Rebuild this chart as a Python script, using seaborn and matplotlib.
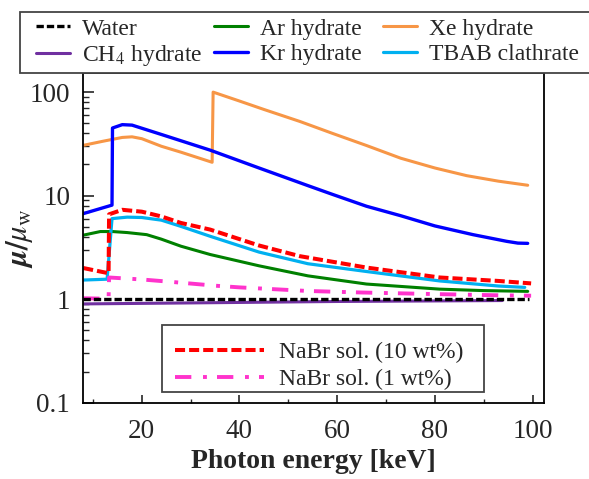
import numpy as np
import pandas as pd
import seaborn as sns
from matplotlib import pyplot as plt
from matplotlib.patches import Rectangle
from matplotlib.ticker import FixedLocator, FixedFormatter, NullFormatter

# values (photon energy in keV, mu/mu_w)
e_water = [8, 99.2]
mu_water = [1.0, 1.0]

e_ch4 = [8, 30, 60, 93.8]
mu_ch4 = [0.9, 0.92, 0.95, 0.97]

e_ar = [8, 11.5, 14, 17, 21, 24, 28, 34, 44, 54, 66, 81, 90, 99]
mu_ar = [4.15, 4.5, 4.5, 4.4, 4.2, 3.8, 3.25, 2.7, 2.1, 1.68, 1.4, 1.25, 1.21, 1.19]

e_kr = [8, 13.9, 14.0, 16, 18, 24, 34, 44, 54, 59, 66, 73, 80, 87.8, 94.7, 97, 99]
mu_kr = [6.7, 8.1, 45, 48.5, 48, 39, 27.5, 18.5, 12.5, 10.3, 7.9, 6.4, 5.1, 4.2, 3.62, 3.48, 3.46]

e_xe = [8, 12, 16, 18, 20, 24, 28, 34.4, 34.6, 40, 45, 52.4, 59, 66, 73, 80, 86.5, 93, 99]
mu_xe = [30.6, 33.5, 36.5, 37, 35.5, 30, 26.3, 21, 100, 82, 68, 52, 40, 30.5, 23, 18.5, 15.6, 13.8, 12.6]

e_tbab = [8, 12.9, 13.9, 17, 20, 24, 28, 34, 44, 54, 66, 81, 93, 98.4]
mu_tbab = [1.53, 1.56, 6.0, 6.2, 6.15, 5.8, 5.05, 4.05, 2.85, 2.2, 1.85, 1.5, 1.34, 1.3]

e_nabr10 = [8, 13.2, 13.3, 16, 20, 24, 28, 34, 44, 52.4, 66, 81, 93, 99.7]
mu_nabr10 = [2.0, 1.78, 6.6, 7.3, 7.0, 6.3, 5.45, 4.7, 3.3, 2.6, 2.02, 1.62, 1.5, 1.42]

e_nabr1 = [8, 13.2, 13.3, 20, 26, 35, 40, 54, 65, 80, 93, 99.7]
mu_nabr1 = [1.02, 1.01, 1.62, 1.55, 1.47, 1.35, 1.3, 1.2, 1.16, 1.12, 1.09, 1.08]

legend_labels = ['Water', 'CH$_4$ hydrate', 'Ar hydrate', 'Kr hydrate',
                 'Xe hydrate', 'TBAB clathrate',
                 'NaBr sol. (10 wt%)', 'NaBr sol. (1 wt%)']
y_ticks = [0.1, 1, 10, 100]
y_tick_labels = ['0.1', '1', '10', '100']

W, H = 589, 479


def pre_config():
    sns.set_style('ticks')
    plt.rcParams.update({
        'font.family': ['Liberation Serif', 'DejaVu Serif'],
        'mathtext.fontset': 'stix',
        'font.size': 17,
        'xtick.direction': 'in',
        'ytick.direction': 'in',
        'axes.linewidth': 1.3,
        'axes.edgecolor': 'black',
    })


def draw(ax, x, y, label, color, lw, dashes=None):
    sns.lineplot(x=x, y=y, ax=ax, color=color, lw=lw, label=label,
                 sort=False, estimator=None)
    line = ax.lines[-1]
    if dashes is not None:
        line.set_dashes(dashes)
    return line


def frame_box(fig, x0, y0, x1, y1):
    # box given in picture pixels from the top-left corner
    rect = Rectangle((x0 / W, 1 - y1 / H), (x1 - x0) / W, (y1 - y0) / H,
                     transform=fig.transFigure, fill=True, facecolor='white',
                     edgecolor='#444444', lw=1.3, zorder=5)
    fig.add_artist(rect)


def legend_column(fig, handles, labels, x, y, **kw):
    leg = fig.legend(handles, labels, loc='upper left',
                     bbox_to_anchor=(x / W, 1 - y / H), borderaxespad=0,
                     borderpad=0, fontsize=17, frameon=False, **kw)
    leg.set_zorder(6)
    return leg


def main():
    pre_config()
    fig = plt.figure(figsize=(W / 100, H / 100), dpi=100)
    ax = fig.add_axes([82.7 / W, 1 - 402.7 / H, (544.3 - 82.7) / W, (402.7 - 73) / H])

    h = {}
    h['Xe hydrate'] = draw(ax, e_xe, mu_xe, legend_labels[4], '#f79646', 2.2)
    h['Ar hydrate'] = draw(ax, e_ar, mu_ar, legend_labels[2], '#008000', 2.2)
    h['TBAB clathrate'] = draw(ax, e_tbab, mu_tbab, legend_labels[5], '#00b0f0', 2.3)
    h['Kr hydrate'] = draw(ax, e_kr, mu_kr, legend_labels[3], '#0000ff', 2.4)
    h['NaBr sol. (1 wt%)'] = draw(ax, e_nabr1, mu_nabr1, legend_labels[7], '#ff33cc', 2.8,
                                  dashes=(4.2, 3.0, 1.0, 2.6))
    h['NaBr sol. (10 wt%)'] = draw(ax, e_nabr10, mu_nabr10, legend_labels[6], '#ff0000', 2.9,
                                   dashes=(2.5, 1.0))
    h['CH$_4$ hydrate'] = draw(ax, e_ch4, mu_ch4, legend_labels[1], '#7030a0', 2.2)
    h['Water'] = draw(ax, e_water, mu_water, legend_labels[0], 'black', 2.4,
                      dashes=(2.2, 0.9))
    ax.get_legend().remove()

    ax.set_yscale('log')
    ax.set_xlim(7.9, 102.4)
    ax.set_ylim(0.1, 153)
    ax.yaxis.set_major_locator(FixedLocator(y_ticks))
    ax.yaxis.set_major_formatter(FixedFormatter(y_tick_labels))
    minor = [m * d for d in [0.1, 1, 10] for m in range(2, 10)]
    ax.yaxis.set_minor_locator(FixedLocator(minor))
    ax.yaxis.set_minor_formatter(NullFormatter())
    ax.set_xticks([20, 40, 60, 80, 100])
    ax.set_xticks([10, 30, 50, 70, 90], minor=True)
    ax.tick_params(which='major', length=6, width=1.2, labelsize=19.5)
    ax.tick_params(which='minor', length=3, width=1.0)
    ax.tick_params(axis='x', which='major', pad=11.5)
    ax.tick_params(axis='y', which='major', length=8, pad=9)
    ax.tick_params(axis='y', which='minor', length=4)

    ax.set_xlabel('Photon energy [keV]', fontsize=20, fontweight='bold', labelpad=4)
    ax.set_ylabel(r'$\boldsymbol{\mu/\mu_{\mathrm{w}}}$', fontsize=22, labelpad=-4)

    # top legend: frame runs past the right edge of the picture,
    # three columns placed where the reference has them
    frame_box(fig, 20, 12, 620, 73)
    top = legend_labels[:6]
    for i, x_col in enumerate([36, 214, 383]):
        pair = top[2 * i:2 * i + 2]
        legend_column(fig, [h[k] for k in pair], pair, x_col, 18,
                      handlelength=1.45, handletextpad=0.5, labelspacing=0.16)

    # bottom legend inside the axes
    frame_box(fig, 162, 325, 484, 392)
    bottom = legend_labels[6:]
    legend_column(fig, [h[k] for k in bottom], bottom, 175, 342,
                  handlelength=3.75, handletextpad=0.65, labelspacing=0.22)

    fig.savefig('out.png', dpi=100)


if __name__ == '__main__':
    main()
